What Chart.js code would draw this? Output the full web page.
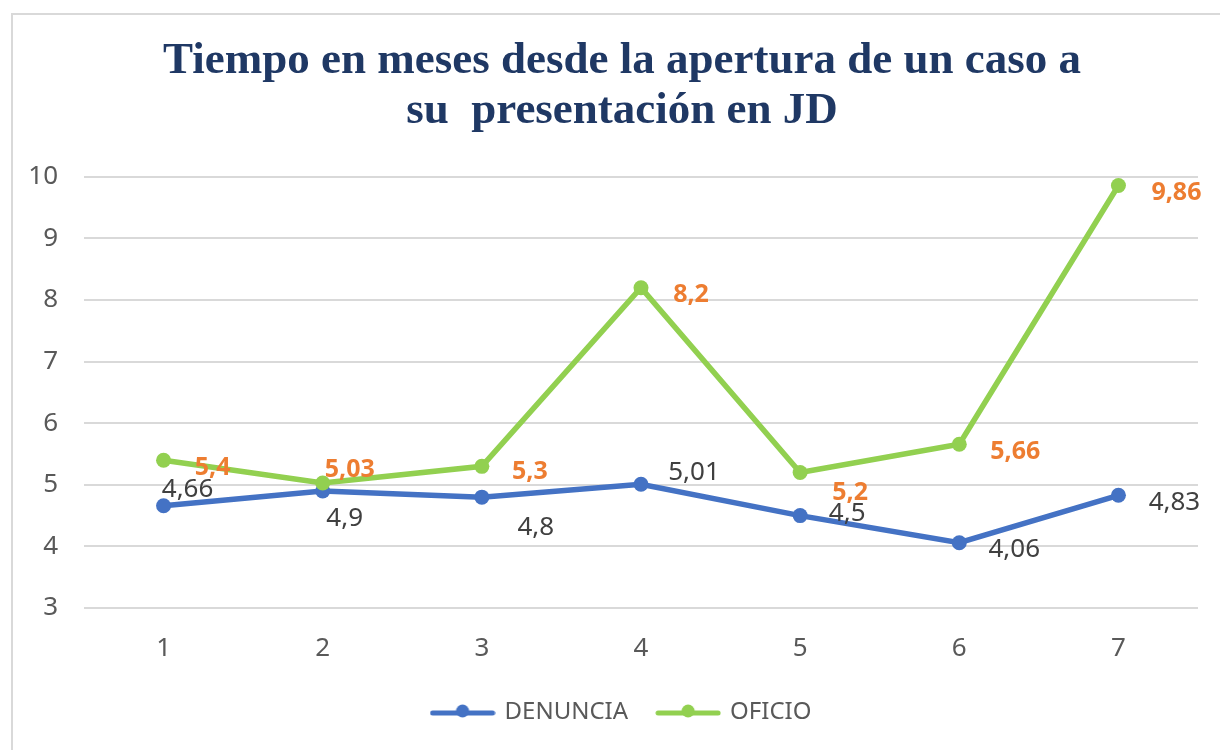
<!DOCTYPE html>
<html>
<head>
<meta charset="utf-8">
<script src="https://cdn.jsdelivr.net/npm/chart.js@4.4.1/dist/chart.umd.min.js"></script>
<style>
    html, body { margin: 0; padding: 0; background: #ffffff; }
    #wrap { position: relative; width: 1220px; height: 750px; overflow: hidden; }
    #frame { position: absolute; left: 11px; top: 13px; width: 1300px; height: 800px;
             border: 2px solid #d9d9d9; pointer-events: none; }
    canvas { position: absolute; left: 0; top: 0; }
</style>
</head>
<body>
<div id="wrap">
    <canvas id="timeChart" width="1244" height="750"></canvas>
    <div id="frame"></div>
</div>
<script>
// Chart data
const categories = ['1', '2', '3', '4', '5', '6', '7'];
const denunciaValues = [4.66, 4.9, 4.8, 5.01, 4.5, 4.06, 4.83];
const oficioValues = [5.4, 5.03, 5.3, 8.2, 5.2, 5.66, 9.86];
const denunciaLabels = ['4,66', '4,9', '4,8', '5,01', '4,5', '4,06', '4,83'];
const oficioLabels = ['5,4', '5,03', '5,3', '8,2', '5,2', '5,66', '9,86'];
const yTicks = [3, 4, 5, 6, 7, 8, 9, 10];

// label offsets from each point (pixels)
const denunciaOffsets = [[24, -16], [22, 28], [54, 30], [53, -12], [47, -2], [55, 7], [56, 7]];
const oficioOffsets = [[49, 8], [27, -13], [48, 6], [50, 7], [50, 20], [56, 8], [58, 7]];

const BLUE = '#4472c4';
const GREEN = '#92d050';

// legend marker: short line with a dot in the middle
function legendMarker(color) {
    const c = document.createElement('canvas');
    c.width = 66;
    c.height = 16;
    const g = c.getContext('2d');
    g.strokeStyle = color;
    g.lineWidth = 5;
    g.lineCap = 'round';
    g.beginPath();
    g.moveTo(3, 9);
    g.lineTo(63, 9);
    g.stroke();
    g.fillStyle = color;
    g.beginPath();
    g.arc(33, 7, 6.5, 0, Math.PI * 2);
    g.fill();
    return c;
}

// draws the value labels next to each point
const valueLabels = {
    id: 'valueLabels',
    afterDatasetsDraw(chart) {
        const ctx = chart.ctx;
        const sets = [
            { meta: chart.getDatasetMeta(0), text: denunciaLabels, off: denunciaOffsets,
              font: '26px "Noto Sans"', color: '#404040' },
            { meta: chart.getDatasetMeta(1), text: oficioLabels, off: oficioOffsets,
              font: 'bold 25px "Noto Sans"', color: '#ed7d31' }
        ];
        ctx.save();
        ctx.textAlign = 'center';
        ctx.textBaseline = 'middle';
        sets.forEach(s => {
            ctx.font = s.font;
            ctx.fillStyle = s.color;
            s.meta.data.forEach((pt, i) => {
                ctx.fillText(s.text[i], pt.x + s.off[i][0], pt.y + s.off[i][1]);
            });
        });
        ctx.restore();
    }
};

const ctx = document.getElementById('timeChart').getContext('2d');
const timeChart = new Chart(ctx, {
    type: 'line',
    data: {
        labels: categories,
        datasets: [
            {
                label: 'DENUNCIA',
                data: denunciaValues,
                borderColor: BLUE,
                backgroundColor: BLUE,
                borderWidth: 5.5,
                pointRadius: 7.5,
                pointHoverRadius: 7.5,
                pointBorderWidth: 0,
                tension: 0,
                order: 2
            },
            {
                label: 'OFICIO',
                data: oficioValues,
                borderColor: GREEN,
                backgroundColor: GREEN,
                borderWidth: 5.5,
                pointRadius: 7.5,
                pointHoverRadius: 7.5,
                pointBorderWidth: 0,
                tension: 0,
                order: 1
            }
        ]
    },
    options: {
        responsive: false,
        animation: false,
        layout: {
            padding: { top: 22, right: 0, bottom: 16, left: 0 }
        },
        scales: {
            x: {
                offset: true,
                grid: { display: false, drawTicks: false },
                border: { display: false },
                afterFit(axis) {
                    axis.height = 62;
                },
                ticks: {
                    padding: 25,
                    color: '#595959',
                    font: { family: '"Noto Sans"', size: 26 }
                }
            },
            y: {
                min: 3,
                max: 10,
                afterBuildTicks(axis) {
                    axis.ticks = yTicks.map(v => ({ value: v }));
                },
                afterFit(axis) {
                    axis.width = 84;
                },
                grid: { color: '#d9d9d9', lineWidth: 2, drawTicks: false },
                border: { display: false },
                ticks: {
                    padding: 26,
                    color: '#595959',
                    font: { family: '"Noto Sans"', size: 26 }
                }
            },
            // empty right-hand spacer so the title and legend centre on the frame
            spacer: {
                position: 'right',
                display: true,
                afterFit(axis) {
                    axis.width = 46;
                },
                grid: { display: false },
                border: { display: false },
                ticks: { display: false }
            }
        },
        plugins: {
            title: {
                display: true,
                text: ['Tiempo en meses desde la apertura de un caso a', 'su  presentación en JD'],
                color: '#1f3864',
                font: { family: '"Liberation Serif"', size: 45, weight: 'bold', lineHeight: 1.11 },
                padding: { top: 14, bottom: 41 }
            },
            legend: {
                position: 'bottom',
                sort: (a, b) => a.datasetIndex - b.datasetIndex,
                labels: {
                    usePointStyle: true,
                    pointStyleWidth: 60,
                    padding: 30,
                    color: '#595959',
                    font: { family: '"Noto Sans"', size: 24 },
                    generateLabels(chart) {
                        return chart.data.datasets.map((ds, i) => ({
                            text: ds.label,
                            fillStyle: ds.borderColor,
                            strokeStyle: ds.borderColor,
                            lineWidth: 0,
                            pointStyle: legendMarker(ds.borderColor),
                            fontColor: '#595959',
                            hidden: false,
                            datasetIndex: i
                        }));
                    }
                }
            },
            tooltip: { enabled: false }
        }
    },
    plugins: [valueLabels]
});
</script>
</body>
</html>
